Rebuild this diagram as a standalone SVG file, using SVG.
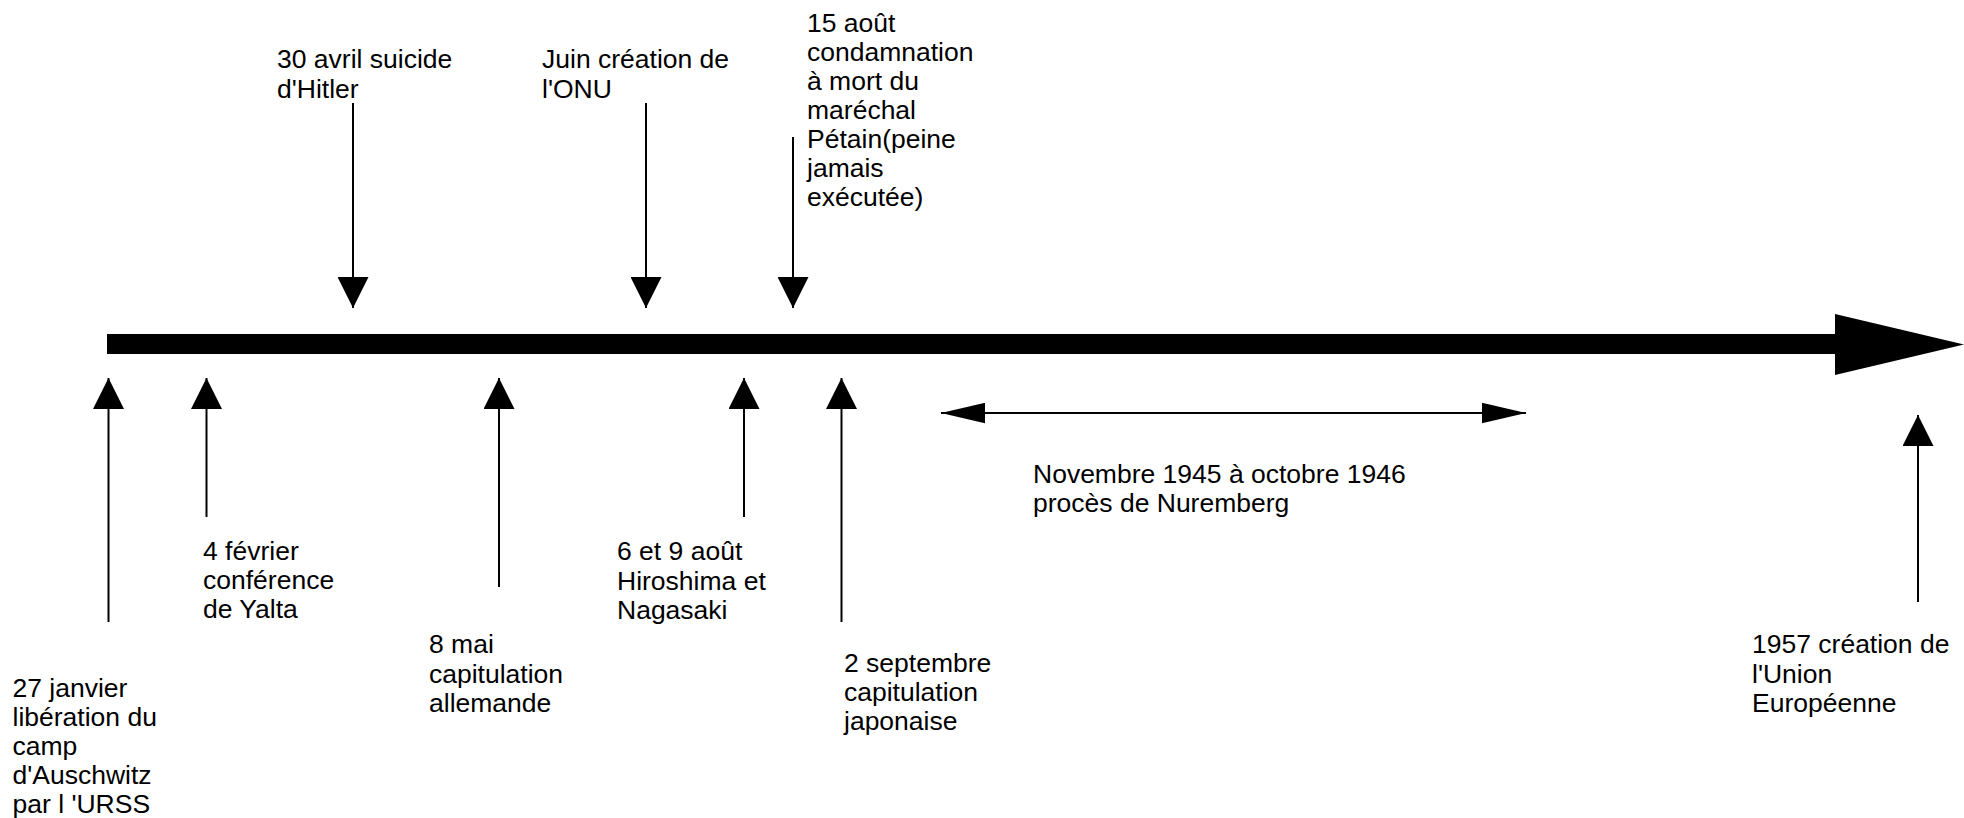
<svg xmlns="http://www.w3.org/2000/svg" width="1964" height="818" viewBox="0 0 1964 818">
<style>
  text { font-family: "Liberation Sans", Arial, sans-serif; font-size: 26.5px; fill: #000; }
  .ln { stroke: #000; stroke-width: 2; fill: none; }
</style>
<defs>
  <marker id="head" markerUnits="userSpaceOnUse" markerWidth="31" markerHeight="31" viewBox="0 0 30 30" refX="30" refY="15" orient="auto">
    <path d="M0,0 L30,15 L0,30 Z" fill="#000"/>
  </marker>
  <marker id="headN" markerUnits="userSpaceOnUse" markerWidth="44" markerHeight="21" viewBox="0 0 43 20" refX="43" refY="10" orient="auto-start-reverse">
    <path d="M0,0 L43,10 L0,20 Z" fill="#000"/>
  </marker>
</defs>
<rect width="1964" height="818" fill="#fff"/>

<g id="timeline">
  <path d="M107,334 L1835,334 L1835,314 L1964,344.5 L1835,375 L1835,354 L107,354 Z" fill="#000"/>
</g>

<g id="connectors">
  <line class="ln" x1="353" y1="103" x2="353" y2="308" marker-end="url(#head)"/>
  <line class="ln" x1="646" y1="103" x2="646" y2="308" marker-end="url(#head)"/>
  <line class="ln" x1="793" y1="137" x2="793" y2="308" marker-end="url(#head)"/>
  <line class="ln" x1="108.5" y1="622" x2="108.5" y2="378" marker-end="url(#head)"/>
  <line class="ln" x1="206.5" y1="517" x2="206.5" y2="378" marker-end="url(#head)"/>
  <line class="ln" x1="499" y1="587" x2="499" y2="378" marker-end="url(#head)"/>
  <line class="ln" x1="744" y1="517" x2="744" y2="378" marker-end="url(#head)"/>
  <line class="ln" x1="841.5" y1="622" x2="841.5" y2="378" marker-end="url(#head)"/>
  <line class="ln" x1="1918" y1="602" x2="1918" y2="415" marker-end="url(#head)"/>
  <line class="ln" x1="941" y1="413" x2="1526" y2="413" marker-start="url(#headN)" marker-end="url(#headN)"/>
</g>

<g id="hitler">
  <text x="277" y="68"><tspan x="277">30 avril suicide</tspan><tspan x="277" dy="29.5">d'Hitler</tspan></text>
</g>
<g id="onu">
  <text x="542" y="68"><tspan x="542">Juin création de</tspan><tspan x="542" dy="29.5">l'ONU</tspan></text>
</g>
<g id="petain">
  <text x="807" y="32"><tspan x="807">15 août</tspan><tspan x="807" dy="29">condamnation</tspan><tspan x="807" dy="29">à mort du</tspan><tspan x="807" dy="29">maréchal</tspan><tspan x="807" dy="29">Pétain(peine</tspan><tspan x="807" dy="29">jamais</tspan><tspan x="807" dy="29">exécutée)</tspan></text>
</g>
<g id="auschwitz">
  <text x="12.5" y="697"><tspan x="12.5">27 janvier</tspan><tspan x="12.5" dy="29">libération du</tspan><tspan x="12.5" dy="29">camp</tspan><tspan x="12.5" dy="29">d'Auschwitz</tspan><tspan x="12.5" dy="29">par l 'URSS</tspan></text>
</g>
<g id="yalta">
  <text x="203" y="560"><tspan x="203">4 février</tspan><tspan x="203" dy="29">conférence</tspan><tspan x="203" dy="29">de Yalta</tspan></text>
</g>
<g id="capitulation-allemande">
  <text x="429" y="653"><tspan x="429">8 mai</tspan><tspan x="429" dy="29.5">capitulation</tspan><tspan x="429" dy="29.5">allemande</tspan></text>
</g>
<g id="hiroshima">
  <text x="617" y="560"><tspan x="617">6 et 9 août</tspan><tspan x="617" dy="29.5">Hiroshima et</tspan><tspan x="617" dy="29.5">Nagasaki</tspan></text>
</g>
<g id="capitulation-japonaise">
  <text x="844" y="672"><tspan x="844">2 septembre</tspan><tspan x="844" dy="29">capitulation</tspan><tspan x="844" dy="29">japonaise</tspan></text>
</g>
<g id="nuremberg">
  <text x="1033" y="483"><tspan x="1033">Novembre 1945 à octobre 1946</tspan><tspan x="1033" dy="29">procès de Nuremberg</tspan></text>
</g>
<g id="union-europeenne">
  <text x="1752" y="653"><tspan x="1752">1957 création de</tspan><tspan x="1752" dy="29.5">l'Union</tspan><tspan x="1752" dy="29.5">Européenne</tspan></text>
</g>
</svg>
